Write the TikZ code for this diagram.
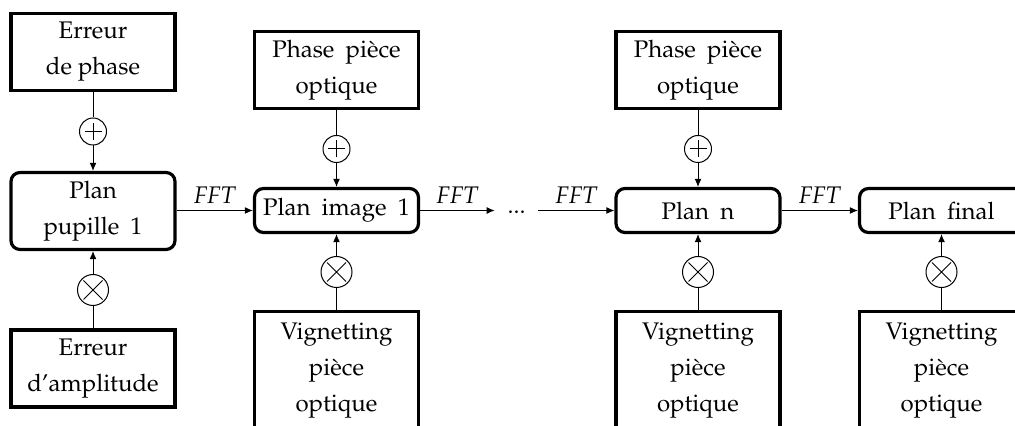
\documentclass[tikz,border=0pt]{standalone}
\IfFileExists{mathpazo.sty}{\usepackage[T1]{fontenc}\usepackage{mathpazo}}{\usepackage{fontspec}\setmainfont{Liberation Serif}}
\usetikzlibrary{arrows.meta,calc}

\begin{document}
\begin{tikzpicture}[x=0.5pt,y=-0.5pt,
  every node/.style={font=\fontsize{12}{18}\selectfont},
  widespace/.style={execute at begin node={\spaceskip=5.6pt\relax}},
  block/.style={draw,line width=1.6pt,minimum width=82pt,minimum height=38.5pt,
    align=center,inner sep=0pt,widespace},
  plane/.style={draw,line width=1.6pt,rounded corners=4.5pt,minimum width=82pt,
    minimum height=22pt,align=center,inner sep=0pt,widespace},
  link/.style={line width=0.45pt},
  feed/.style={link,-{Latex[length=4pt,width=3.4pt]}},
  addop/.style={circle,draw,line width=0.5pt,minimum size=13.5pt,inner sep=0pt,
    path picture={\draw[line width=0.5pt]
      ($(path picture bounding box.center)+(-4.25pt,0)$) -- ($(path picture bounding box.center)+(4.25pt,0)$)
      ($(path picture bounding box.center)+(0,-4.25pt)$) -- ($(path picture bounding box.center)+(0,4.25pt)$);}},
  mulop/.style={circle,draw,line width=0.5pt,minimum size=15.5pt,inner sep=0pt,
    path picture={\draw[line width=0.5pt]
      ($(path picture bounding box.center)+(-4.75pt,-4.75pt)$) -- ($(path picture bounding box.center)+(4.75pt,4.75pt)$)
      ($(path picture bounding box.center)+(-4.75pt,4.75pt)$) -- ($(path picture bounding box.center)+(4.75pt,-4.75pt)$);}},
  fftlabel/.style={font=\fontsize{12}{18}\selectfont\itshape,above,inner sep=3pt}
]
\useasboundingbox (0,0) rectangle (1015,426);
\clip (0,0) rectangle (1015,426);

% pupil plane and its error terms
\node[draw,line width=1.6pt,minimum width=82pt,minimum height=38.5pt,
  align=center,inner sep=0pt] (ep) at (93,52) {Erreur\\de phase};
\node[plane,minimum height=38.5pt] (pp1) at (93,211) {Plan\\pupille 1};
\node[block] (ea) at (93,368.5) {Erreur\\d'amplitude};
\node[addop] (plus1) at (93,131.5) {};
\node[mulop] (times1) at (93,290) {};

% first image plane
\node[block] (ph1) at (336.5,70) {Phase pièce\\optique};
\node[plane] (img1) at (336.5,210.5) {Plan image 1};
\node[block,minimum height=59pt] (vg1) at (336.5,370.5) {Vignetting\\pièce\\optique};
\node[addop] (plus2) at (336.5,149) {};
\node[mulop] (times2) at (336.5,272) {};

% intermediate planes
\node[inner xsep=6.2pt,inner ysep=1pt] (dots) at (516.5,212) {...};

% n-th plane
\node[block] (ph2) at (698,70) {Phase pièce\\optique};
\node[plane] (pn) at (698,210.5) {Plan n};
\node[block,minimum height=59pt] (vg2) at (698,370.5) {Vignetting\\pièce\\optique};
\node[addop] (plus3) at (698,149) {};
\node[mulop] (times3) at (698,272) {};

% final plane
\node[plane] (pf) at (941.5,210.5) {Plan final};
\node[block,minimum height=59pt] (vg3) at (941.5,370.5) {Vignetting\\pièce\\optique};
\node[mulop] (times4) at (941.5,272) {};

% vertical feeds
\draw[link] (ep) -- (plus1);
\draw[feed] (plus1) -- (pp1);
\draw[link] (ea) -- (times1);
\draw[feed] (times1) -- (pp1);

\draw[link] (ph1) -- (plus2);
\draw[feed] (plus2) -- (img1);
\draw[link] (vg1) -- (times2);
\draw[feed] (times2) -- (img1);

\draw[link] (ph2) -- (plus3);
\draw[feed] (plus3) -- (pn);
\draw[link] (vg2) -- (times3);
\draw[feed] (times3) -- (pn);

\draw[link] (vg3) -- (times4);
\draw[feed] (times4) -- (pf);

% propagation chain
\draw[feed] (pp1.east |- img1.west) -- node[fftlabel] {FFT} (img1.west);
\draw[feed] (img1.east) -- node[fftlabel] {FFT} (img1.east -| dots.west);
\draw[feed] (img1.east -| dots.east) -- node[fftlabel] {FFT} (pn.west);
\draw[feed] (pn.east) -- node[fftlabel] {FFT} (pf.west);
\end{tikzpicture}
\end{document}
